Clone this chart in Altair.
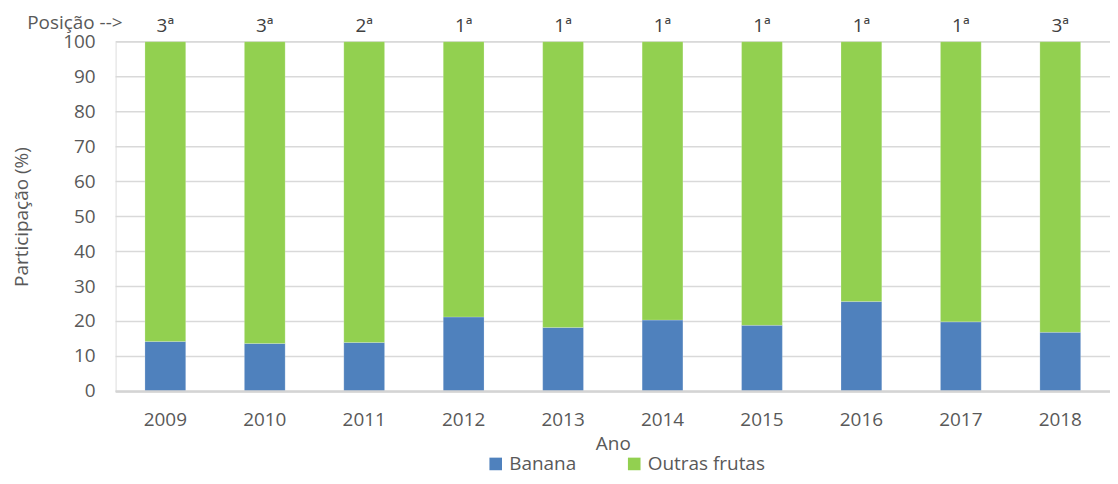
import altair as alt
import pandas as pd

anos = ["2009", "2010", "2011", "2012", "2013", "2014", "2015", "2016", "2017", "2018"]
banana = [14.3, 13.7, 14.0, 21.3, 18.3, 20.4, 18.9, 25.7, 19.9, 16.9]
outras = [85.7, 86.3, 86.0, 78.7, 81.7, 79.6, 81.1, 74.3, 80.1, 83.1]
posicao = ["3ª", "3ª", "2ª", "1ª", "1ª", "1ª", "1ª", "1ª", "1ª", "3ª"]
series = ["Banana", "Outras frutas"]
cores = ["#4F81BD", "#92D050"]
yticks = [0, 10, 20, 30, 40, 50, 60, 70, 80, 90, 100]

rows = []
for a, b, o in zip(anos, banana, outras):
    rows.append({"Ano": a, "Serie": series[0], "Valor": b, "ordem": 0})
    rows.append({"Ano": a, "Serie": series[1], "Valor": o, "ordem": 1})
df = pd.DataFrame(rows)
dpos = pd.DataFrame({"Ano": anos, "Pos": posicao})
dticks = pd.DataFrame({"Valor": yticks, "rotulo": [str(v) for v in yticks]})

FONT = "Open Sans"
TXT = "#595959"
FS = 19

xenc = alt.X("Ano:N", sort=anos,
             scale=alt.Scale(paddingInner=0.59, paddingOuter=0.295),
             axis=alt.Axis(title="Ano", labelAngle=0, labelFontSize=FS, titleFontSize=FS,
                           labelColor=TXT, titleColor=TXT, labelFont=FONT, titleFont=FONT,
                           ticks=False, domain=False, labelPadding=19, titlePadding=5,
                           titleFontWeight="normal"))

yscale = alt.Scale(domain=[0, 100], nice=False)

grid = alt.Chart(dticks).mark_rule(color="#D9D9D9", strokeWidth=1.5).encode(
    y=alt.Y("Valor:Q", scale=yscale,
            axis=alt.Axis(title="Participação (%)", labels=False, grid=False, ticks=False,
                          domain=False, titleFontSize=FS, titleColor=TXT, titleFont=FONT,
                          titlePadding=84, titleFontWeight="normal")),
)

ylabels = alt.Chart(dticks).mark_text(fontSize=FS, font=FONT, color=TXT, align="right",
                                      baseline="middle").encode(
    y=alt.Y("Valor:Q", scale=yscale),
    x=alt.value(-20),
    text="rotulo:N",
)

bars = alt.Chart(df).mark_bar(stroke="white", strokeWidth=0.5, strokeOpacity=0.4).encode(
    x=xenc,
    y=alt.Y("Valor:Q", stack="zero", scale=yscale),
    color=alt.Color("Serie:N", sort=series,
                    scale=alt.Scale(domain=series, range=cores),
                    legend=alt.Legend(title=None, orient="none", direction="horizontal",
                                      legendX=372, legendY=414, symbolType="square",
                                      symbolSize=160, labelFontSize=FS, labelFont=FONT,
                                      labelColor=TXT, columnPadding=48, symbolStrokeWidth=0,
                                      labelOffset=4)),
    order=alt.Order("ordem:Q"),
)

base_line = alt.Chart(pd.DataFrame({"v": [0]})).mark_rule(color="#D4D4D4", strokeWidth=2.5).encode(
    x=alt.value(0), x2=alt.value(998), y=alt.value(351))

pos = alt.Chart(dpos).mark_text(fontSize=FS, font=FONT, color="#404040", baseline="middle").encode(
    x=alt.X("Ano:N", sort=anos),
    y=alt.value(-16),
    text="Pos:N",
)

lbl = alt.Chart(pd.DataFrame({"t": ["Posição -->"]})).mark_text(
    fontSize=FS, font=FONT, color=TXT, align="right", baseline="middle").encode(
    x=alt.value(7), y=alt.value(-19), text="t:N")

chart = alt.layer(grid, ylabels, bars, base_line, pos, lbl).properties(
    width=998, height=351,
    autosize=alt.AutoSizeParams(type="none"),
    padding={"left": 108, "top": 33, "right": 0, "bottom": 84},
).configure_view(stroke=None).configure(background="white")

chart.save("out.html", embed_options={"renderer": "svg", "actions": False})
